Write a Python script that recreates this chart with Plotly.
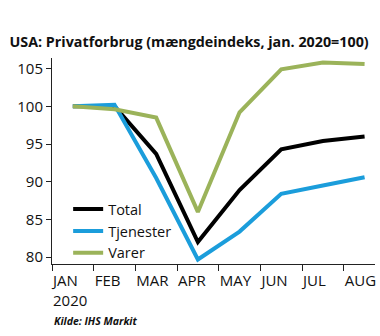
import plotly.graph_objects as go

months = ["JAN", "FEB", "MAR", "APR", "MAY", "JUN", "JUL", "AUG"]
tick_labels = ["JAN<br>2020", "FEB", "MAR", "APR", "MAY", "JUN", "JUL", "AUG"]
total = [100.0, 100.0, 93.7, 82.0, 88.9, 94.3, 95.4, 96.0]
tjenester = [100.0, 100.2, 90.5, 79.7, 83.4, 88.4, 89.5, 90.6]
varer = [100.0, 99.6, 98.5, 86.0, 99.2, 104.9, 105.8, 105.6]

series = [
    ("Total", total, "#000000"),
    ("Tjenester", tjenester, "#1B9DDB"),
    ("Varer", varer, "#9BB35A"),
]

x = list(range(len(months)))
fig = go.Figure()
for name, vals, color in series:
    fig.add_trace(go.Scatter(x=x, y=vals, mode="lines", name=name,
                             line=dict(color=color, width=4)))

font_family = "Open Sans, Liberation Sans, sans-serif"
fig.update_layout(
    width=380, height=336,
    margin=dict(l=52, r=5, t=58, b=72),
    paper_bgcolor="white", plot_bgcolor="white",
    font=dict(family=font_family, size=15, color="#111111"),
    title=dict(text="<b>USA: Privatforbrug (mængdeindeks, jan. 2020=100)</b>",
               x=0.025, xanchor="left", y=0.875, yanchor="middle",
               font=dict(size=14.3, family=font_family, color="#111111")),
    showlegend=True,
    legend=dict(x=0.05, y=-0.025, xanchor="left", yanchor="bottom",
                bgcolor="rgba(0,0,0,0)", font=dict(size=14.5),
                tracegroupgap=0, itemwidth=30),
    annotations=[dict(text="<b><i>Kilde: IHS Markit</i></b>", xref="paper", yref="paper",
                      x=0, y=-0.275, xanchor="left", yanchor="middle", showarrow=False,
                      font=dict(size=10.5, family=font_family, color="#111111"))],
)
fig.update_xaxes(
    range=[-0.5, 7.25],
    tickmode="array", tickvals=[v - 0.5 for v in x], ticktext=tick_labels,
    ticklabelposition="outside right", ticklabelstandoff=3,
    ticks="outside", ticklen=6, tickcolor="#222", showline=True, linecolor="#222",
    linewidth=1, showgrid=False, zeroline=False,
)
fig.update_yaxes(
    range=[79.1, 106.4], tickvals=[80, 85, 90, 95, 100, 105],
    ticks="outside", ticklen=5, tickcolor="#222", showline=True, linecolor="#222",
    linewidth=1, showgrid=False, zeroline=False,
)
fig.write_html("out.html")
